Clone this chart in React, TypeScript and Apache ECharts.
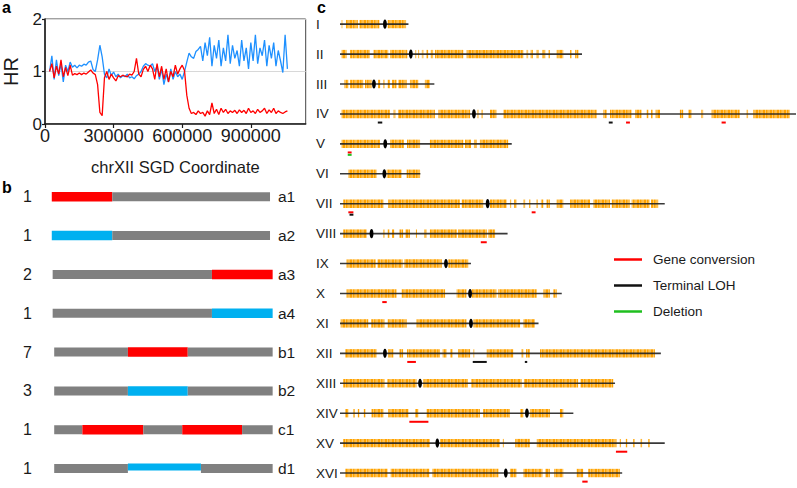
import React, { useEffect, useRef } from "react";
import * as echarts from "echarts";

const FONT = "'Liberation Sans', Arial, Helvetica, sans-serif";
const INK = "#1a1a1a";

// ---------------- panel a : HR along chrXII ----------------
const hrPositionsKb = [
  20, 30, 40, 50, 60, 70, 80, 90, 100, 110, 120, 130, 140, 150, 160, 170, 180, 190, 200, 210,
  220, 230, 240, 250, 260, 270, 280, 290, 300, 310, 320, 330, 340, 350, 360, 370, 380, 390, 400, 410,
  420, 430, 440, 450, 460, 470, 480, 490, 500, 510, 520, 530, 540, 550, 560, 570, 580, 590, 600, 610,
  620, 630, 640, 650, 660, 670, 680, 690, 700, 710, 720, 730, 740, 750, 760, 770, 780, 790, 800, 810,
  820, 830, 840, 850, 860, 870, 880, 890, 900, 910, 920, 930, 940, 950, 960, 970, 980, 990, 1000, 1010,
  1020, 1030, 1040, 1050, 1060,
];
const hrRed = [
  1.0, 1.15, 0.88, 1.1, 0.95, 1.22, 0.9, 1.08, 0.92, 1.12, 0.93, 0.96, 0.94, 0.97, 0.94, 0.97, 0.95, 0.99, 1.03, 0.97,
  0.94, 0.75, 0.22, 0.16, 0.88, 1.0, 0.85, 0.95, 0.88, 0.82, 0.92, 0.9, 0.93, 0.91, 0.9, 0.95, 0.93, 1.0, 1.25, 0.95,
  0.9, 1.04, 1.1, 1.0, 1.12, 1.05, 0.85, 1.15, 0.9, 1.1, 0.85, 1.05, 0.8, 1.0, 0.9, 1.12, 0.95, 1.05, 1.12, 1.02,
  0.55, 0.3, 0.2, 0.22, 0.18, 0.25, 0.2, 0.22, 0.15, 0.25, 0.18, 0.4, 0.2, 0.28, 0.18, 0.3, 0.22, 0.28, 0.2, 0.25,
  0.22, 0.26, 0.2, 0.27, 0.22, 0.26, 0.2, 0.3, 0.22, 0.25, 0.2, 0.28, 0.22, 0.25, 0.3, 0.2, 0.27, 0.22, 0.3, 0.2,
  0.25, 0.22, 0.2, 0.23, 0.25,
];
const hrBlue = [
  1.0, 1.3, 0.85, 1.22, 0.92, 1.15, 0.8, 1.12, 1.0, 1.18, 1.08, 1.12, 1.07, 1.12, 1.1, 1.14, 1.12, 1.18, 1.2, 1.04,
  1.0, 1.22, 1.5, 1.28, 0.95, 0.88, 1.05, 0.92, 0.99, 0.9, 0.95, 0.88, 0.92, 0.9, 0.95, 0.88, 0.9, 0.86, 0.92, 0.95,
  1.0, 1.1, 1.15, 1.12, 1.1, 1.15, 1.0, 1.1, 0.85, 1.05, 0.75, 0.95, 0.8, 1.05, 0.85, 1.0, 0.9, 0.95, 0.85, 1.0,
  1.18, 1.35, 1.28, 1.25, 1.38, 1.42, 1.48, 1.2, 1.55, 1.3, 1.65, 1.1, 1.5, 1.25, 1.6, 1.1, 1.45, 1.2, 1.7, 1.15,
  1.5, 1.25, 1.4, 1.1, 1.6, 1.2, 1.45, 1.05, 1.55, 1.2, 1.7, 1.15, 1.45, 1.3, 1.6, 1.1, 1.5, 1.25, 1.55, 1.1,
  1.4, 1.2, 0.98, 1.7, 1.05,
];

// ---------------- panel b : LOH patterns ----------------
const bRows = ["a1", "a2", "a3", "a4", "b1", "b2", "c1", "d1"];
const bCounts = ["1", "1", "2", "1", "7", "3", "1", "1"];
// [row, start, end, kind] on a 0..100 scale of the chromosome
const bSegments: [string, number, number, string][] = [
  ["a1", -0.1, 27.4, "red"], ["a1", 27.4, 99.1, "gray"],
  ["a2", -0.1, 27.4, "blue"], ["a2", 27.4, 99.1, "gray"],
  ["a3", 0.3, 72.7, "gray"], ["a3", 72.7, 100.3, "red"],
  ["a4", 0.3, 72.7, "gray"], ["a4", 72.7, 100.3, "blue"],
  ["b1", 1, 34.5, "gray"], ["b1", 34.5, 61.7, "red"], ["b1", 61.7, 100.3, "gray"],
  ["b2", 1, 34.5, "gray"], ["b2", 34.5, 61.7, "blue"], ["b2", 61.7, 100.3, "gray"],
  ["c1", 1, 13.8, "gray"], ["c1", 13.8, 41.5, "red"], ["c1", 41.5, 59.2, "gray"], ["c1", 59.2, 86.4, "red"], ["c1", 86.4, 100.3, "gray"],
  ["d1", 1, 34.5, "gray"], ["d1", 34.5, 67.7, "blueThin"], ["d1", 67.7, 100.3, "gray"],
];

// ---------------- panel c : genome ----------------
const chromNames = ["I", "II", "III", "IV", "V", "VI", "VII", "VIII", "IX", "X", "XI", "XII", "XIII", "XIV", "XV", "XVI"];
const chromLengthKb = [230, 813, 317, 1532, 577, 270, 1091, 563, 440, 745, 667, 1078, 924, 784, 1091, 948];
const centromereKb = [151, 238, 114, 450, 152, 149, 496, 106, 356, 437, 440, 151, 269, 628, 327, 557];

const genesI = [[5, 8], [20, 60], [65, 132], [160, 222]];
const genesII = [[5, 22], [34, 100], [112, 162], [168, 226], [252, 256], [262, 266], [275, 280], [290, 296], [305, 313], [319, 414], [425, 616], [627, 632], [640, 648], [660, 668], [680, 690], [700, 705], [728, 750], [773, 778], [790, 801]];
const genesIII = [[15, 28], [34, 78], [84, 106], [128, 135], [145, 150], [160, 168], [175, 190], [196, 224], [235, 263], [285, 302]];
const genesIV = [[5, 168], [180, 186], [195, 319], [330, 437], [462, 466], [475, 480], [504, 526], [549, 862], [885, 896], [907, 979], [991, 1013], [1030, 1036], [1045, 1050], [1060, 1075], [1142, 1153], [1170, 1181], [1214, 1220], [1248, 1343], [1366, 1371], [1388, 1511]];
const genesV = [[5, 134], [168, 215], [225, 269], [302, 414], [420, 440], [450, 459], [470, 565]];
const genesVI = [[28, 123], [157, 207], [224, 269]];
const genesVII = [[11, 146], [162, 403], [409, 481], [504, 560], [571, 575], [585, 593], [616, 622], [635, 640], [660, 665], [675, 683], [694, 705], [728, 750], [773, 840], [851, 907], [913, 974], [980, 1040], [1045, 1069]];
const genesVIII = [[11, 90], [145, 150], [160, 166], [175, 182], [200, 212], [220, 235], [255, 258], [283, 291], [302, 392], [397, 493], [498, 521]];
const genesIX = [[22, 120], [126, 210], [216, 342], [364, 431]];
const genesX = [[22, 190], [207, 353], [392, 425], [442, 526], [532, 661], [683, 705], [717, 728]];
const genesXI = [[2, 95], [105, 150], [160, 224], [257, 425], [448, 605], [616, 655]];
const genesXII = [[17, 123], [162, 179], [200, 212], [225, 336], [345, 358], [370, 378], [397, 437], [448, 451], [493, 582], [610, 616], [625, 638], [672, 1058]];
const genesXIII = [[11, 150], [158, 257], [280, 430], [440, 610], [618, 800], [808, 918]];
const genesXIV = [[17, 28], [45, 50], [60, 65], [80, 85], [106, 146], [162, 230], [252, 263], [291, 470], [481, 571], [605, 616], [638, 705], [739, 750]];
const genesXV = [[11, 302], [336, 537], [547, 551], [588, 638], [661, 929], [940, 944], [960, 965], [985, 990], [1010, 1015], [1035, 1041]];
const genesXVI = [[17, 160], [170, 300], [310, 532], [571, 593], [616, 680], [690, 705], [720, 750], [795, 817], [834, 940]];
const geneLists = [genesI, genesII, genesIII, genesIV, genesV, genesVI, genesVII, genesVIII, genesIX, genesX, genesXI, genesXII, genesXIII, genesXIV, genesXV, genesXVI];

// [chromosome, startKb, endKb, stack level]
const geneConversion: [string, number, number, number][] = [
  ["IV", 961, 974, 0], ["IV", 1282, 1296, 0], ["V", 26, 39, 0], ["VII", 28, 45, 0], ["VII", 644, 657, 0],
  ["VIII", 473, 493, 0], ["X", 142, 157, 0], ["XII", 226, 255, 0], ["XIV", 233, 297, 0], ["XV", 927, 965, 0],
  ["XVI", 814, 832, 0],
];
const terminalLOH: [string, number, number, number][] = [
  ["IV", 127, 142, 0], ["IV", 903, 916, 0], ["VII", 32, 45, 1], ["XII", 446, 493, 0], ["XII", 621, 629, 0],
];
const deletion: [string, number, number, number][] = [["V", 26, 39, 1]];

const COLORS = { red: "#ff0000", blue: "#00b0f0", gray: "#808080", lineBlue: "#1e90ff", orange: "#ffa500", green: "#1fbf1f" };

// gene tick texture (vertical stripes of strong and pale orange)
const GENE_TEXTURE =
  "data:image/svg+xml;charset=utf-8," +
  encodeURIComponent(
    "<svg xmlns='http://www.w3.org/2000/svg' width='7' height='10'>" +
      "<rect x='0' y='0' width='7' height='10' fill='#ffc766'/>" +
      "<rect x='0' y='0' width='2' height='10' fill='#ffa200'/>" +
      "<rect x='3' y='0' width='1.5' height='10' fill='#ffa500'/>" +
      "<rect x='5.5' y='0' width='1' height='10' fill='#ffb733'/>" +
      "</svg>"
  );

function buildOption(): any {
  const segStyle: Record<string, { color: string; h: number; dy: number }> = {
    gray: { color: COLORS.gray, h: 9, dy: 0 },
    red: { color: COLORS.red, h: 9.5, dy: 0 },
    blue: { color: COLORS.blue, h: 9.5, dy: 0 },
    blueThin: { color: COLORS.blue, h: 7, dy: -1.5 },
  };
  const segData = bSegments.map((s) => [bRows.indexOf(s[0]), s[1], s[2]]);

  const geneData: number[][] = [];
  geneLists.forEach((list, i) => list.forEach((g) => geneData.push([i, g[0], g[1]])));
  const chromData = chromNames.map((_, i) => [i, chromLengthKb[i], centromereKb[i]]);
  const genePattern = { image: GENE_TEXTURE, repeat: "repeat" };

  const lohSeries = (name: string, color: string, list: [string, number, number, number][]) => ({
    type: "custom",
    name,
    xAxisIndex: 2,
    yAxisIndex: 3,
    silent: true,
    itemStyle: { color },
    encode: { x: [1, 2], y: 0 },
    data: list.map((d) => [chromNames.indexOf(d[0]), d[1], d[2], d[3]]),
    renderItem: (params: any, api: any) => {
      const a = api.coord([api.value(1), api.value(0)]);
      const b = api.coord([api.value(2), api.value(0)]);
      const lvl = api.value(3);
      return {
        type: "rect",
        shape: { x: a[0], y: a[1] + 7.6 + lvl * 2.4, width: Math.max(b[0] - a[0], 1), height: 2 },
        style: { fill: color },
      };
    },
  });

  const axisCommon = {
    axisLine: { show: true, lineStyle: { color: INK, width: 1.5 } },
    axisTick: { show: true, lineStyle: { color: INK, width: 1.2 } },
  };

  return {
    animation: false,
    backgroundColor: "#ffffff",
    textStyle: { fontFamily: FONT },
    graphic: [
      { type: "text", left: 2, top: -1, style: { text: "a", font: `bold 16px ${FONT}`, fill: "#000" } },
      { type: "text", left: 2, top: 179, style: { text: "b", font: `bold 16px ${FONT}`, fill: "#000" } },
      { type: "text", left: 317, top: -1, style: { text: "c", font: `bold 16px ${FONT}`, fill: "#000" } },
    ],
    legend: {
      data: ["Gene conversion", "Terminal LOH", "Deletion"],
      orient: "vertical",
      left: 609,
      top: 246.5,
      itemWidth: 28,
      itemHeight: 2.5,
      itemGap: 10,
      icon: "rect",
      selectedMode: false,
      textStyle: { fontSize: 13.5, color: INK, fontFamily: FONT, lineHeight: 16, padding: [0, 0, 0, 6] },
    },
    grid: [
      { left: 41, top: 19, width: 264.7, height: 105, show: true, borderColor: "#444", borderWidth: 1 },
      { left: 52, top: 177.3, width: 220, height: 317.7 },
      { left: 340, top: 9.2, width: 456, height: 482.6 },
    ],
    xAxis: [
      {
        gridIndex: 0,
        type: "value",
        min: 0,
        max: 1140000,
        interval: 300000,
        ...axisCommon,
        axisTick: { ...axisCommon.axisTick, length: 4 },
        axisLabel: {
          fontSize: 18,
          color: INK,
          fontFamily: FONT,
          margin: 3,
          showMaxLabel: false,
          formatter: (v: number) => String(v),
        },
        splitLine: { show: false },
        name: "chrXII SGD Coordinate",
        nameLocation: "middle",
        nameGap: 34,
        nameTextStyle: { fontSize: 16.5, color: INK, fontFamily: FONT },
      },
      { gridIndex: 1, type: "value", min: 0, max: 100, show: false },
      { gridIndex: 2, type: "value", min: 0, max: 1532, show: false },
    ],
    yAxis: [
      {
        gridIndex: 0,
        type: "value",
        min: 0,
        max: 2,
        interval: 1,
        ...axisCommon,
        axisTick: { ...axisCommon.axisTick, length: 3 },
        axisLabel: { fontSize: 17, color: INK, fontFamily: FONT, margin: 3 },
        splitLine: { show: true, lineStyle: { color: "#d8d8d8", width: 1 } },
        name: "HR",
        nameLocation: "middle",
        nameGap: 24,
        nameTextStyle: { fontSize: 20, color: INK, fontFamily: FONT },
      },
      {
        gridIndex: 1,
        type: "category",
        data: bRows,
        inverse: true,
        position: "left",
        axisLine: { show: false },
        axisTick: { show: false },
        axisLabel: { formatter: (_v: string, i: number) => bCounts[i], margin: 20, fontSize: 16, color: INK, fontFamily: FONT },
      },
      {
        gridIndex: 1,
        type: "category",
        data: bRows,
        inverse: true,
        position: "right",
        axisLine: { show: false },
        axisTick: { show: false },
        axisLabel: { margin: 6, fontSize: 15.5, color: INK, fontFamily: FONT },
      },
      {
        gridIndex: 2,
        type: "category",
        data: chromNames,
        inverse: true,
        axisLine: { show: false },
        axisTick: { show: false },
        axisLabel: { align: "left", margin: 24, fontSize: 13.5, color: INK, fontFamily: FONT },
      },
    ],
    series: [
      {
        type: "line",
        name: "blue",
        xAxisIndex: 0,
        yAxisIndex: 0,
        showSymbol: false,
        silent: true,
        lineStyle: { color: COLORS.lineBlue, width: 1.3 },
        itemStyle: { color: COLORS.lineBlue },
        data: hrPositionsKb.map((k, i) => [k * 1000, hrBlue[i]]),
      },
      {
        type: "line",
        name: "red",
        xAxisIndex: 0,
        yAxisIndex: 0,
        showSymbol: false,
        silent: true,
        lineStyle: { color: COLORS.red, width: 1.3 },
        itemStyle: { color: COLORS.red },
        data: hrPositionsKb.map((k, i) => [k * 1000, hrRed[i]]),
      },
      {
        type: "custom",
        name: "segments",
        xAxisIndex: 1,
        yAxisIndex: 1,
        silent: true,
        encode: { x: [1, 2], y: 0 },
        data: segData,
        renderItem: (params: any, api: any) => {
          const kind = bSegments[params.dataIndex][3];
          const st = segStyle[kind];
          const a = api.coord([api.value(1), api.value(0)]);
          const b = api.coord([api.value(2), api.value(0)]);
          return {
            type: "rect",
            shape: { x: a[0], y: a[1] - st.h / 2 + st.dy, width: b[0] - a[0], height: st.h },
            style: { fill: st.color },
          };
        },
      },
      {
        type: "custom",
        name: "genes",
        xAxisIndex: 2,
        yAxisIndex: 3,
        silent: true,
        encode: { x: [1, 2], y: 0 },
        data: geneData,
        renderItem: (params: any, api: any) => {
          const a = api.coord([api.value(1), api.value(0)]);
          const b = api.coord([api.value(2), api.value(0)]);
          return {
            type: "rect",
            shape: { x: a[0], y: a[1] - 4.2, width: Math.max(b[0] - a[0], 1), height: 8.4 },
            style: { fill: genePattern as any },
          };
        },
      },
      {
        type: "custom",
        name: "chromosomes",
        xAxisIndex: 2,
        yAxisIndex: 3,
        silent: true,
        encode: { x: [1, 2], y: 0 },
        data: chromData,
        renderItem: (params: any, api: any) => {
          const a = api.coord([0, api.value(0)]);
          const b = api.coord([api.value(1), api.value(0)]);
          const c = api.coord([api.value(2), api.value(0)]);
          return {
            type: "group",
            children: [
              { type: "rect", shape: { x: a[0], y: a[1] - 0.8, width: b[0] - a[0], height: 1.6 }, style: { fill: "#222", opacity: 0.9 } },
              { type: "ellipse", shape: { cx: c[0], cy: c[1], rx: 1.9, ry: 4.6 }, style: { fill: "#000" } },
            ],
          };
        },
      },
      lohSeries("Gene conversion", COLORS.red, geneConversion),
      lohSeries("Terminal LOH", "#111111", terminalLOH),
      lohSeries("Deletion", COLORS.green, deletion),
    ],
  };
}

export default function App() {
  const ref = useRef<HTMLDivElement>(null);
  useEffect(() => {
    document.body.style.margin = "0";
    const chart = echarts.init(ref.current!, null, { renderer: "svg" });
    chart.setOption(buildOption());
    return () => chart.dispose();
  }, []);
  return <div ref={ref} style={{ width: 797, height: 488 }} />;
}
